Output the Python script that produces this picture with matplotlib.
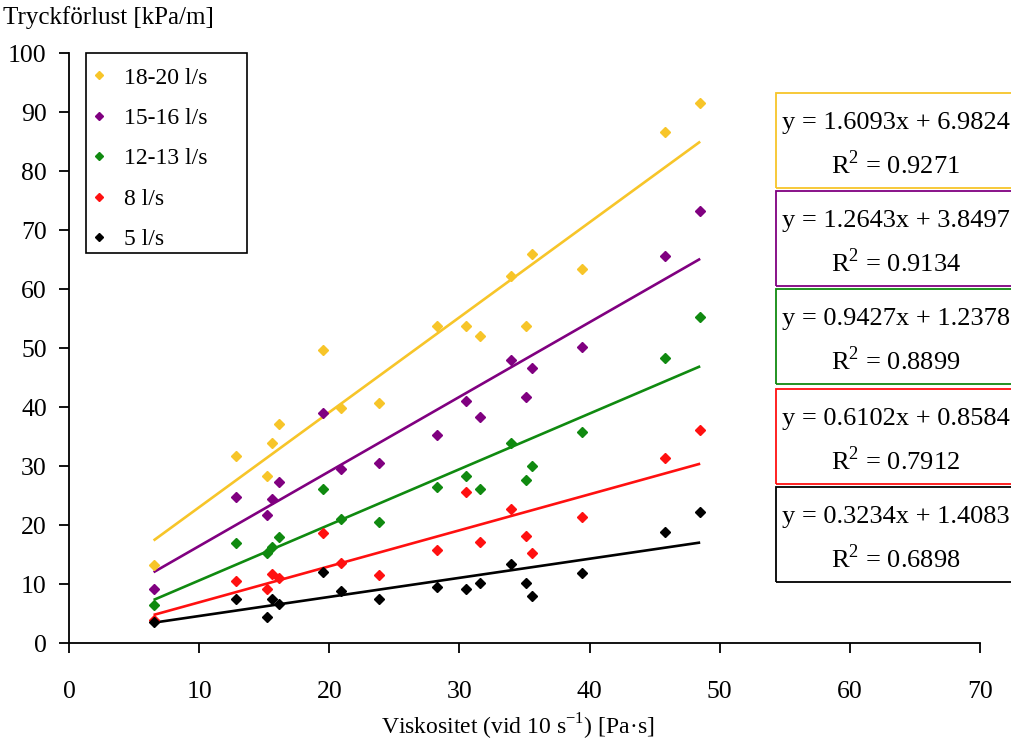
import matplotlib
matplotlib.use("Agg")
import matplotlib.pyplot as plt
import numpy as np
from matplotlib.patches import Rectangle

plt.rcParams['font.family'] = ['Liberation Serif', 'DejaVu Serif']
plt.rcParams['mathtext.fontset'] = 'custom'
plt.rcParams['mathtext.rm'] = 'Liberation Serif'

# Viscosity (Pa·s) of each sample
viskositet = [6.5, 12.8, 15.2, 15.6, 16.1, 19.5, 20.9, 23.85, 28.3, 30.5,
              31.6, 34.0, 35.1, 35.6, 39.4, 45.8, 48.5]

# Pressure loss (kPa/m) for each flow rate
flode_18_20 = [13.3, 31.8, 28.4, 33.9, 37.1, 49.7, 39.9, 40.7, 53.8, 53.8,
               52.1, 62.3, 53.8, 66.0, 63.5, 86.6, 91.5]
flode_15_16 = [9.2, 24.8, 21.8, 24.5, 27.4, 39.0, 29.5, 30.5, 35.4, 41.0,
               38.3, 48.0, 41.7, 46.6, 50.2, 65.7, 73.3]
flode_12_13 = [6.5, 17.0, 15.4, 16.4, 18.1, 26.1, 21.0, 20.6, 26.5, 28.4,
               26.2, 33.9, 27.7, 30.1, 35.9, 48.3, 55.3]
flode_8 = [4.0, 10.6, 9.2, 11.7, 11.1, 18.7, 13.7, 11.6, 15.9, 25.6,
           17.1, 22.8, 18.2, 15.3, 21.5, 31.5, 36.1]
flode_5 = [3.7, 7.5, 4.5, 7.5, 6.6, 12.1, 8.8, 7.5, 9.6, 9.2,
           10.2, 13.4, 10.2, 8.1, 11.9, 18.8, 22.2]

serie_namn = ['18-20 l/s', '15-16 l/s', '12-13 l/s', '8 l/s', '5 l/s']
serie_data = [flode_18_20, flode_15_16, flode_12_13, flode_8, flode_5]
serie_farg = ['#F7C529', '#800080', '#108A10', '#FF1010', '#000000']

# Linear trend lines: slope, intercept, R²
lutning = [1.6093, 1.2643, 0.9427, 0.6102, 0.3234]
intercept = [6.9824, 3.8497, 1.2378, 0.8584, 1.4083]
r2 = [0.9271, 0.9134, 0.8899, 0.7912, 0.6898]

W, H = 1012, 744
fig = plt.figure(figsize=(W / 100, H / 100), dpi=100)
ax = fig.add_axes([69 / W, 1 - 643.4 / H, (980 - 69) / W, (643.4 - 53.3) / H])


def fx(px):
    return px / W


def fy(py):
    return 1 - py / H


x = np.array(viskositet)
xl = np.array([min(viskositet), max(viskositet)])
handles = []
for y, farg, k, m in zip(serie_data, serie_farg, lutning, intercept):
    ax.plot(xl, k * xl + m, color=farg, lw=1.9, solid_capstyle='butt', zorder=2)
for namn, y, farg in zip(serie_namn, serie_data, serie_farg):
    h, = ax.plot(x, y, linestyle='none', marker='D', ms=5.5, color=farg,
                 mec=farg, zorder=3, label=namn)
    handles.append(h)

ax.set_xlim(0, 70)
ax.set_ylim(0, 100)
ax.set_xticks(range(0, 71, 10))
ax.set_yticks(range(0, 101, 10))
for s in ('top', 'right'):
    ax.spines[s].set_visible(False)
for s in ('left', 'bottom'):
    ax.spines[s].set_linewidth(1.3)
ax.tick_params(axis='both', direction='out', length=7, width=1.3,
               labelsize=18.5, colors='black')
ax.tick_params(axis='x', pad=20)
ax.tick_params(axis='y', pad=9)

fig.text(fx(518), fy(727), 'Viskositet (vid 10 s$^{-1}$) [Pa·s]', fontsize=17,
         ha='center', va='center')
fig.text(fx(3), fy(18), 'Tryckförlust [kPa/m]', fontsize=18,
         ha='left', va='center')

# Legend: entries without frame, boxed by a separate rectangle
leg = ax.legend(handles=handles, loc='upper left',
                bbox_to_anchor=(fx(92), fy(67)), bbox_transform=fig.transFigure,
                frameon=False, fontsize=17, markerscale=0.75, handlelength=0.6,
                handletextpad=0.75, labelspacing=0.8, borderpad=0,
                borderaxespad=0)
fig.patches.append(Rectangle((fx(86), fy(253)), (247 - 86) / W, (253 - 53) / H,
                             transform=fig.transFigure, fill=False,
                             edgecolor='black', lw=1.2, zorder=5))

# Equation boxes for the trend lines
box_top = [93, 191, 289, 389, 487]
box_h = 95
for farg, k, m, r, top in zip(serie_farg, lutning, intercept, r2, box_top):
    fig.patches.append(Rectangle((fx(776), fy(top + box_h)), 260 / W, box_h / H,
                                 transform=fig.transFigure, fill=False,
                                 edgecolor=farg, lw=1.3))
    fig.text(fx(782), fy(top + 30), f'y = {k:.4f}x + {m:.4f}',
             fontsize=19, ha='left', va='center')
    fig.text(fx(831), fy(top + 72), f'R$^2$ = {r:.4f}',
             fontsize=19, ha='left', va='center')

fig.savefig('out.png', dpi=100)
